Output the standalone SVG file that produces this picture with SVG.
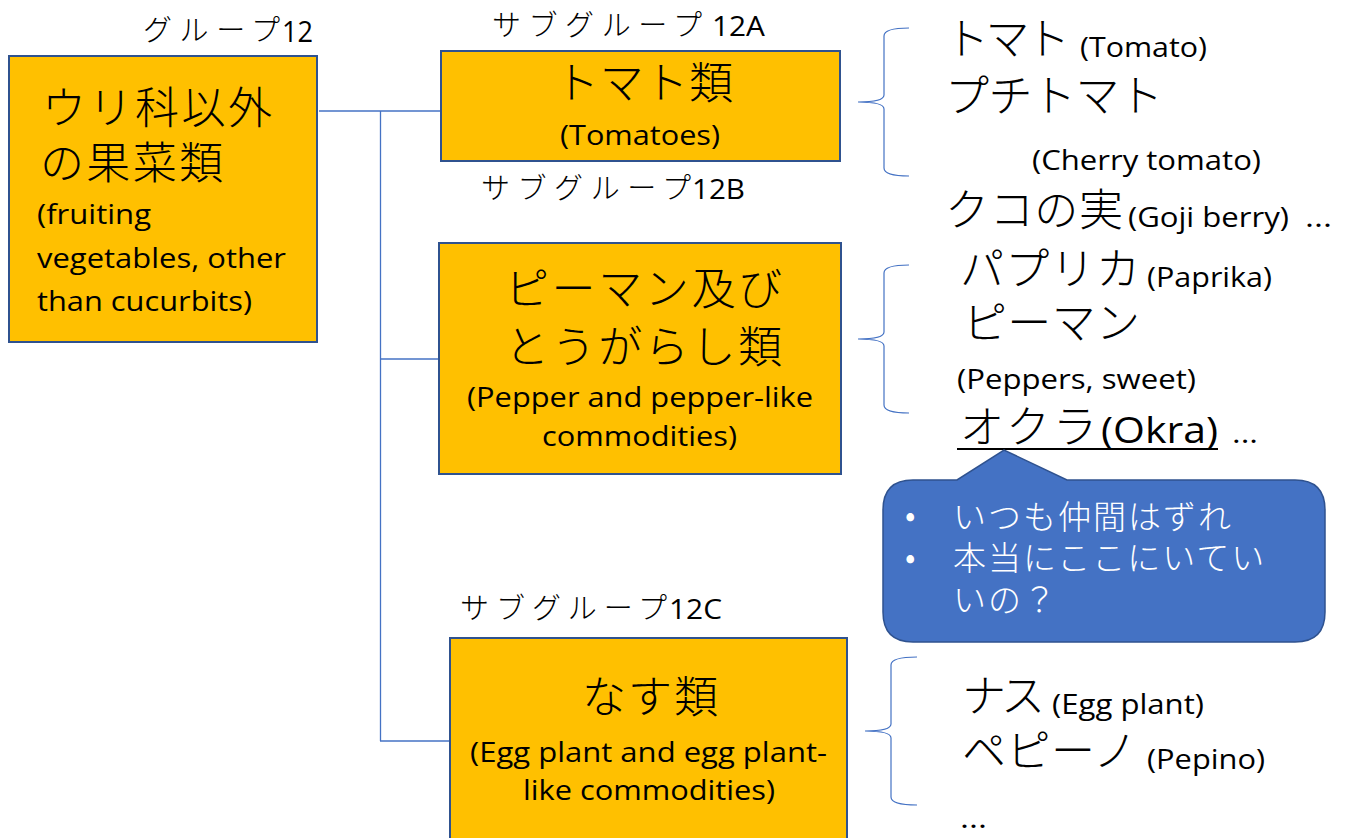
<svg xmlns="http://www.w3.org/2000/svg" width="1346" height="838" viewBox="0 0 1346 838">
<style>
.box{fill:#FFC000;stroke:#2F528F;stroke-width:2}
.conn{fill:none;stroke:#4472C4;stroke-width:1.3}
.brace{fill:none;stroke:#4472C4;stroke-width:1.2}
.jp{font-family:"Noto Sans CJK JP","Noto Sans",sans-serif;font-weight:300;fill:#000}
.en{font-family:"Open Sans","Noto Sans","Liberation Sans",sans-serif;fill:#000}
.big{font-size:44px}
.lbl{font-size:29px}
.mid{font-size:27px}
.wt{font-family:"Noto Sans CJK JP","Noto Sans",sans-serif;font-weight:300;fill:#fff;font-size:33px;letter-spacing:2px}
</style>
<rect width="1346" height="838" fill="#fff"/>

<g id="connectors">
<line class="conn" x1="319" y1="111" x2="441" y2="111"/>
<line class="conn" x1="380.5" y1="111" x2="380.5" y2="741"/>
<line class="conn" x1="380" y1="359" x2="439" y2="359"/>
<line class="conn" x1="380" y1="741" x2="450" y2="741"/>
</g>

<g id="group12">
<text class="jp lbl" x="143" y="41" textLength="137" lengthAdjust="spacing">グループ</text>
<text class="en" font-size="30" x="282" y="42" textLength="31" lengthAdjust="spacingAndGlyphs">12</text>
<rect class="box" x="9" y="56" width="308" height="286"/>
<text class="jp big" x="42" y="124" textLength="230" lengthAdjust="spacing">ウリ科以外</text>
<text class="jp big" x="40" y="179" textLength="183" lengthAdjust="spacing">の果菜類</text>
<text class="en mid" x="37" y="224" textLength="114" lengthAdjust="spacingAndGlyphs">(fruiting</text>
<text class="en mid" x="37" y="268" textLength="249" lengthAdjust="spacingAndGlyphs">vegetables, other</text>
<text class="en mid" x="37" y="311" textLength="215" lengthAdjust="spacingAndGlyphs">than cucurbits)</text>
</g>

<g id="subgroup12A">
<text class="jp lbl" x="492" y="36" textLength="210" lengthAdjust="spacing">サブグループ</text>
<text class="en" font-size="28" x="712" y="36" textLength="53" lengthAdjust="spacingAndGlyphs">12A</text>
<rect class="box" x="441" y="51" width="399" height="110"/>
<text class="jp big" x="555" y="99" textLength="178" lengthAdjust="spacing">トマト類</text>
<text class="en mid" x="560" y="145" textLength="160" lengthAdjust="spacingAndGlyphs">(Tomatoes)</text>
</g>

<g id="subgroup12B">
<text class="jp lbl" x="481" y="199" textLength="210" lengthAdjust="spacing">サブグループ</text>
<text class="en" font-size="28" x="692" y="199" textLength="53" lengthAdjust="spacingAndGlyphs">12B</text>
<rect class="box" x="439" y="243" width="402" height="231"/>
<text class="jp big" x="505" y="305" textLength="277" lengthAdjust="spacing">ピーマン及び</text>
<text class="jp big" x="505" y="363" textLength="277" lengthAdjust="spacing">とうがらし類</text>
<text class="en mid" x="467" y="407" textLength="346" lengthAdjust="spacingAndGlyphs">(Pepper and pepper-like</text>
<text class="en mid" x="542" y="446" textLength="195" lengthAdjust="spacingAndGlyphs">commodities)</text>
</g>

<g id="subgroup12C">
<text class="jp lbl" x="460" y="619" textLength="207" lengthAdjust="spacing">サブグループ</text>
<text class="en" font-size="28" x="669" y="619" textLength="53" lengthAdjust="spacingAndGlyphs">12C</text>
<rect class="box" x="450" y="638" width="397" height="220"/>
<text class="jp big" x="582" y="713" textLength="136" lengthAdjust="spacing">なす類</text>
<text class="en mid" x="470" y="762" textLength="357" lengthAdjust="spacingAndGlyphs">(Egg plant and egg plant-</text>
<text class="en mid" x="523" y="800" textLength="252" lengthAdjust="spacingAndGlyphs">like commodities)</text>
</g>

<g id="list12A">
<path class="brace" d="M909,28 Q884,28 884,36 L884,95 Q884,102 858,102 Q884,102 884,109 L884,168 Q884,176 909,176"/>
<text class="jp big" x="945" y="55" textLength="125" lengthAdjust="spacing">トマト</text>
<text class="en mid" x="1080" y="57" textLength="127" lengthAdjust="spacingAndGlyphs">(Tomato)</text>
<text class="jp big" x="945" y="112" textLength="218" lengthAdjust="spacing">プチトマト</text>
<text class="en mid" x="1032" y="170" textLength="229" lengthAdjust="spacingAndGlyphs">(Cherry tomato)</text>
<text class="jp big" x="945" y="226" textLength="178" lengthAdjust="spacing">クコの実</text>
<text class="en mid" x="1128" y="227" textLength="161" lengthAdjust="spacingAndGlyphs">(Goji berry)</text>
<text class="en mid" x="1305" y="227" textLength="27" lengthAdjust="spacingAndGlyphs">...</text>
</g>

<g id="list12B">
<path class="brace" d="M909,265 Q884,265 884,273 L884,332 Q884,339 858,339 Q884,339 884,346 L884,405 Q884,413 909,413"/>
<text class="jp big" x="960" y="285" textLength="180" lengthAdjust="spacing">パプリカ</text>
<text class="en mid" x="1147" y="287" textLength="125" lengthAdjust="spacingAndGlyphs">(Paprika)</text>
<text class="jp big" x="963" y="339" textLength="177" lengthAdjust="spacing">ピーマン</text>
<text class="en mid" x="957" y="389" textLength="239" lengthAdjust="spacingAndGlyphs">(Peppers, sweet)</text>
<text class="jp big" x="960" y="443" textLength="137" lengthAdjust="spacing">オクラ</text>
<text class="en" font-size="36" x="1101" y="443" textLength="117" lengthAdjust="spacingAndGlyphs">(Okra)</text>
<line x1="957" y1="449" x2="1218" y2="449" stroke="#000" stroke-width="2"/>
<text class="en mid" x="1232" y="443" textLength="26" lengthAdjust="spacingAndGlyphs">...</text>
</g>

<g id="callout">
<path d="M913,480 L957,480 L1004,450 L1067,480 L1295,480 Q1325,480 1325,510 L1325,612 Q1325,642 1295,642 L913,642 Q883,642 883,612 L883,510 Q883,480 913,480 Z" fill="#4472C4" stroke="#2F528F" stroke-width="1.5"/>
<text class="wt" x="905" y="527" font-family="Liberation Sans, sans-serif">•</text>
<text class="wt" x="953" y="529">いつも仲間はずれ</text>
<text class="wt" x="905" y="569" font-family="Liberation Sans, sans-serif">•</text>
<text class="wt" x="953" y="570">本当にここにいてい</text>
<text class="wt" x="953" y="612">いの？</text>
</g>

<g id="list12C">
<path class="brace" d="M917,657 Q891,657 891,665 L891,724 Q891,731 865,731 Q891,731 891,738 L891,797 Q891,805 917,805"/>
<text class="jp big" x="962" y="712" textLength="83" lengthAdjust="spacing">ナス</text>
<text class="en mid" x="1052" y="714" textLength="152" lengthAdjust="spacingAndGlyphs">(Egg plant)</text>
<text class="jp big" x="962" y="767" textLength="175" lengthAdjust="spacing">ペピーノ</text>
<text class="en mid" x="1147" y="769" textLength="118" lengthAdjust="spacingAndGlyphs">(Pepino)</text>
<text class="en mid" x="960" y="828" textLength="27" lengthAdjust="spacingAndGlyphs">...</text>
</g>
</svg>
